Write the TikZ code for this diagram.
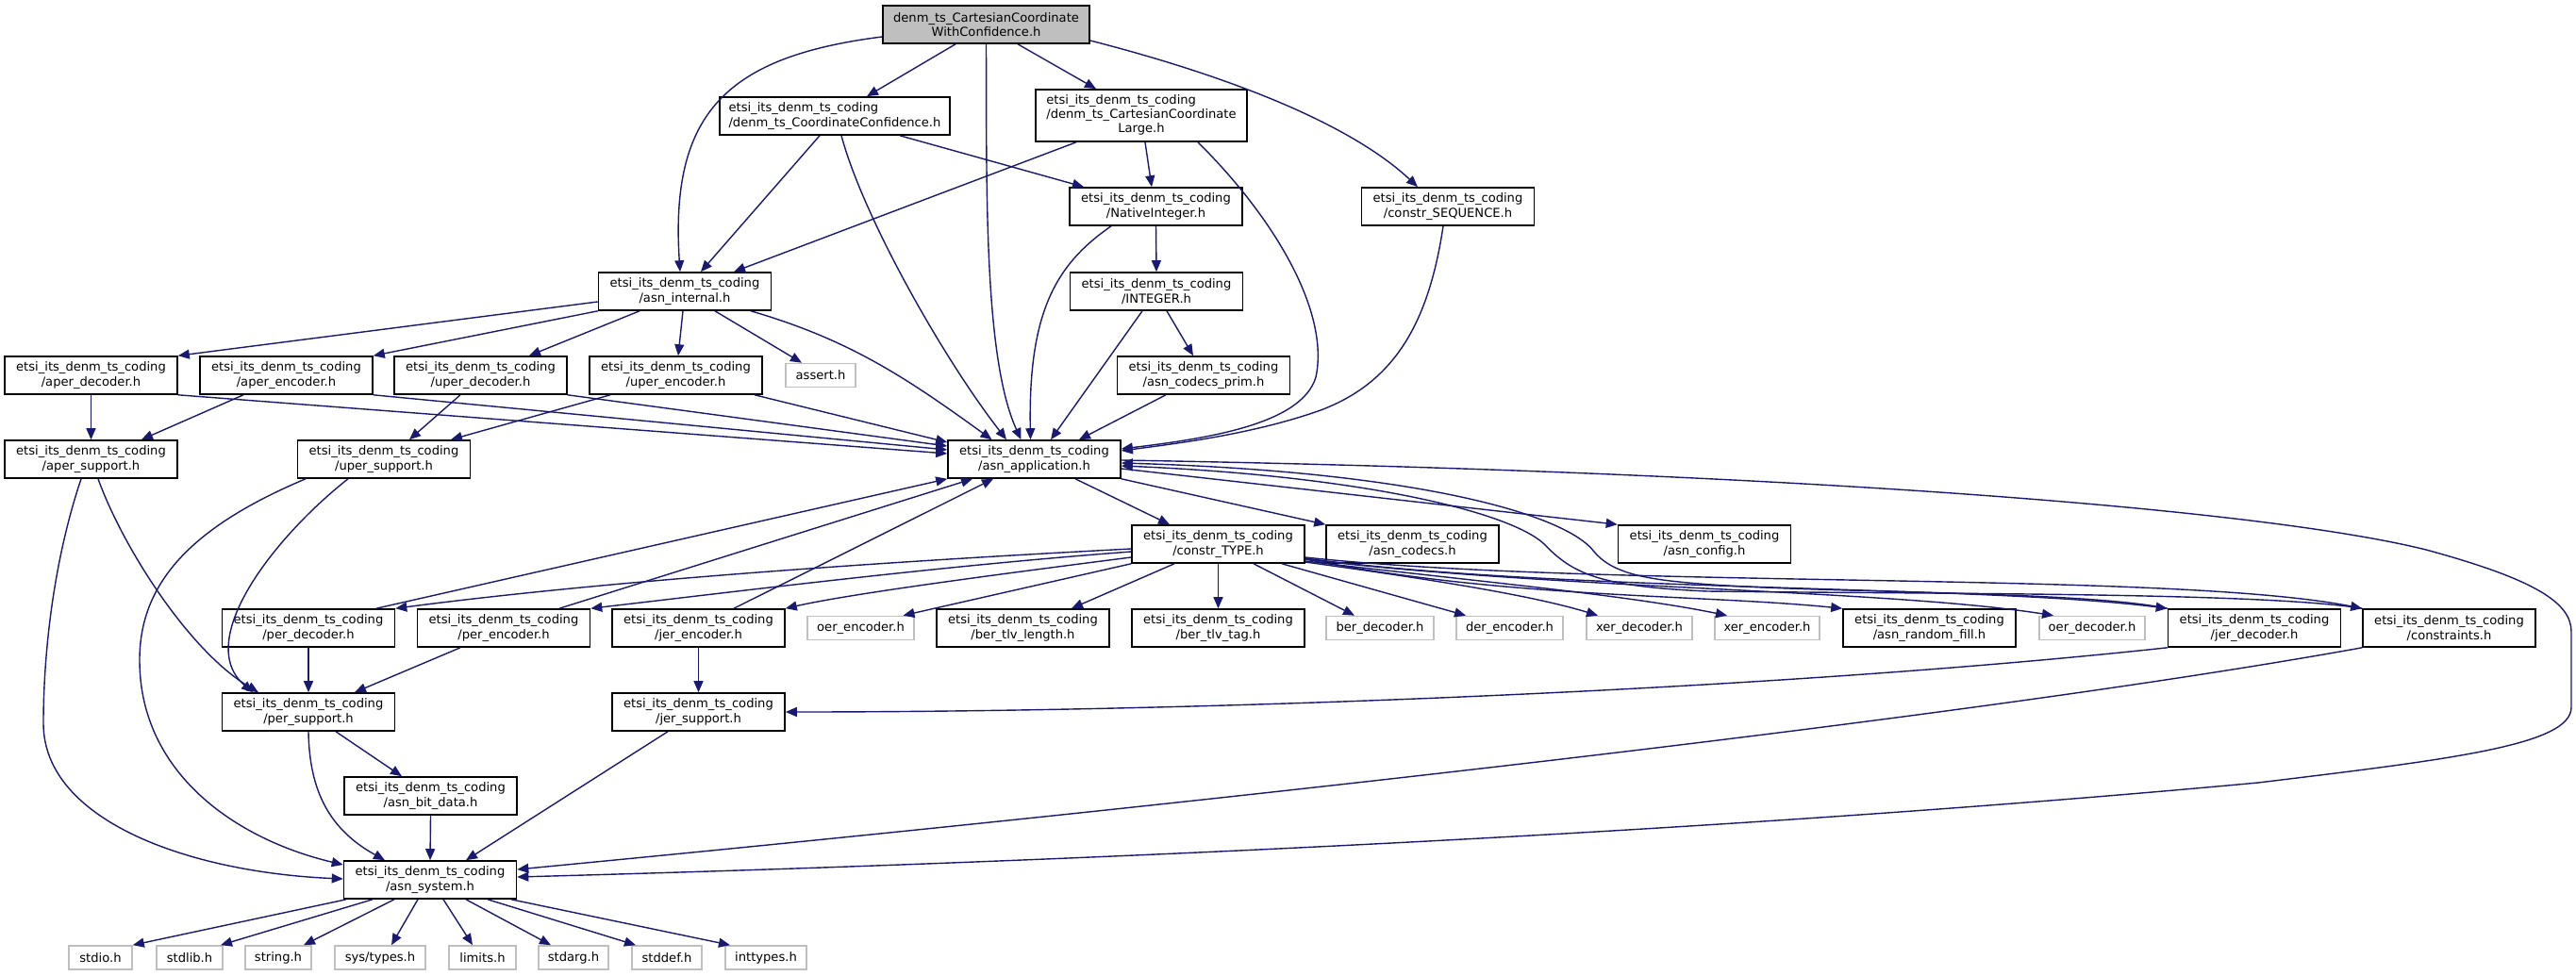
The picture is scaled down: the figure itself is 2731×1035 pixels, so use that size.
\documentclass[tikz,border=0pt]{standalone}
\usepackage{fontspec}
\setmainfont{DejaVu Sans}
\usetikzlibrary{arrows.meta}
\definecolor{edgeblue}{HTML}{191970}
\definecolor{grey75}{HTML}{BFBFBF}
\newcommand\dfont{\fontsize{13.1pt}{15.3pt}\selectfont}
\newcommand\etsipre{etsi\_its\_denm\_ts\_coding}
\tikzset{
  int/.style={draw=black, line width=1.6pt, fill=white, inner sep=0pt,
    minimum height=40pt, minimum width=183pt, align=center, font=\dfont},
  topnode/.style={int, fill=grey75},
  ext/.style={draw=grey75, line width=1.6pt, fill=white, inner sep=0pt,
    minimum height=25pt, align=center, font=\dfont},
  edge/.style={draw=edgeblue, line width=1.4pt, -{Triangle[length=12pt,width=10pt]}},
}
\begin{document}
\begin{tikzpicture}[x=1pt,y=-1pt]
\useasboundingbox[fill=white] (0,0) rectangle (2731,1035);
% ---------- nodes ----------
\node[topnode, minimum width=219pt] (top) at (1045.5,26) {denm\_ts\_CartesianCoordinate\\WithConfidence.h};
\node[int, minimum width=244pt, align=left] (coordconf) at (885,123) {\etsipre\\/denm\_ts\_CoordinateConfidence.h};
\node[int, minimum width=224pt, minimum height=55pt] (cartlarge) at (1210,122.5)
  {\begin{tabular}{@{}l@{}}\etsipre\\/denm\_ts\_CartesianCoordinate\\\multicolumn{1}{@{}c@{}}{Large.h}\end{tabular}};
\node[int] (nativeint) at (1225.5,219) {\etsipre\\/NativeInteger.h};
\node[int] (constrseq) at (1535,219) {\etsipre\\/constr\_SEQUENCE.h};
\node[int] (asninternal) at (726,309) {\etsipre\\/asn\_internal.h};
\node[int] (integer) at (1226,309) {\etsipre\\/INTEGER.h};
\node[int] (aperdec) at (96.5,398) {\etsipre\\/aper\_decoder.h};
\node[int] (aperenc) at (303.5,398) {\etsipre\\/aper\_encoder.h};
\node[int] (uperdec) at (509.5,398) {\etsipre\\/uper\_decoder.h};
\node[int] (uperenc) at (716.5,398) {\etsipre\\/uper\_encoder.h};
\node[ext, minimum width=74pt] (assert) at (870,398) {assert.h};
\node[int] (codecsprim) at (1276,398) {\etsipre\\/asn\_codecs\_prim.h};
\node[int] (apersup) at (96.5,487) {\etsipre\\/aper\_support.h};
\node[int] (upersup) at (407,487) {\etsipre\\/uper\_support.h};
\node[int] (asnapp) at (1096.5,487) {\etsipre\\/asn\_application.h};
\node[int] (constrtype) at (1291.5,577) {\etsipre\\/constr\_TYPE.h};
\node[int] (asncodecs) at (1497.5,577) {\etsipre\\/asn\_codecs.h};
\node[int] (asnconfig) at (1807,577) {\etsipre\\/asn\_config.h};
\node[int] (perdec) at (327,666) {\etsipre\\/per\_decoder.h};
\node[int] (perenc) at (534,666) {\etsipre\\/per\_encoder.h};
\node[int] (jerenc) at (740.5,666) {\etsipre\\/jer\_encoder.h};
\node[ext, minimum width=113pt] (oerenc) at (912.5,666) {oer\_encoder.h};
\node[int] (bertlvlen) at (1084.5,666) {\etsipre\\/ber\_tlv\_length.h};
\node[int] (bertlvtag) at (1291.5,666) {\etsipre\\/ber\_tlv\_tag.h};
\node[ext, minimum width=114pt] (berdec) at (1463,666) {ber\_decoder.h};
\node[ext, minimum width=113pt] (derenc) at (1600.5,666) {der\_encoder.h};
\node[ext, minimum width=112pt] (xerdec) at (1738,666) {xer\_decoder.h};
\node[ext, minimum width=111pt] (xerenc) at (1873.5,666) {xer\_encoder.h};
\node[int] (randfill) at (2045.5,666) {\etsipre\\/asn\_random\_fill.h};
\node[ext, minimum width=112pt] (oerdec) at (2218,666) {oer\_decoder.h};
\node[int] (jerdec) at (2390,666) {\etsipre\\/jer\_decoder.h};
\node[int] (constraints) at (2596.5,666) {\etsipre\\/constraints.h};
\node[int] (persup) at (327,755) {\etsipre\\/per\_support.h};
\node[int] (jersup) at (740.5,755) {\etsipre\\/jer\_support.h};
\node[int] (bitdata) at (456.5,844) {\etsipre\\/asn\_bit\_data.h};
\node[int] (asnsys) at (456,933) {\etsipre\\/asn\_system.h};
\node[ext, minimum width=67pt] (stdio) at (106.5,1015.5) {stdio.h};
\node[ext, minimum width=70pt] (stdlib) at (201,1015.5) {stdlib.h};
\node[ext, minimum width=70pt] (string) at (295,1015.5) {string.h};
\node[ext, minimum width=96pt] (systypes) at (403,1015.5) {sys/types.h};
\node[ext, minimum width=71pt] (limits) at (511.5,1015.5) {limits.h};
\node[ext, minimum width=74pt] (stdarg) at (608,1015.5) {stdarg.h};
\node[ext, minimum width=74pt] (stddef) at (707,1015.5) {stddef.h};
\node[ext, minimum width=86pt] (inttypes) at (812,1015.5) {inttypes.h};
% ---------- edges ----------
\draw[edge] ([yshift=-13pt]top.west) .. controls (770,60) and (710,120) .. ([xshift=-5pt]asninternal.north);
\draw[edge] ([xshift=-32.5pt]top.south) -- ([xshift=34pt]coordconf.north);
\draw[edge] (top.south) .. controls (1046,200) and (1043,380) .. ([xshift=-14pt]asnapp.north);
\draw[edge] ([xshift=33.5pt]top.south) -- ([xshift=-48pt]cartlarge.north);
\draw[edge] ([yshift=-17pt]top.east) .. controls (1300,80) and (1430,130) .. ([xshift=-32pt]constrseq.north);
\draw[edge] ([xshift=69pt]coordconf.south) -- ([xshift=-76.5pt]nativeint.north);
\draw[edge] ([xshift=-16pt]coordconf.south) -- ([xshift=17pt]asninternal.north);
\draw[edge] ([xshift=7pt]coordconf.south) .. controls (915,230) and (1000,380) .. ([xshift=-29.5pt]asnapp.north);
\draw[edge] ([xshift=-69pt]cartlarge.south) -- ([xshift=52pt]asninternal.north);
\draw[edge] ([xshift=4pt]cartlarge.south) -- ([xshift=-4.5pt]nativeint.north);
\draw[edge] ([xshift=60pt]cartlarge.south) .. controls (1350,230) and (1410,330) .. (1395,400) .. controls (1380,450) and (1280,465) .. ([yshift=11pt]asnapp.east);
\draw[edge] (nativeint.south) -- (integer.north);
\draw[edge] ([xshift=-47.5pt]nativeint.south) .. controls (1120,280) and (1090,330) .. ([xshift=-4pt]asnapp.north);
\draw[edge] ([xshift=-5pt]constrseq.south) .. controls (1515,340) and (1480,405) .. (1400,435) .. controls (1330,460) and (1250,470) .. ([yshift=9pt]asnapp.east);
\draw[edge] ([xshift=11pt]integer.south) -- ([xshift=-11pt]codecsprim.north);
\draw[edge] ([xshift=-15pt]integer.south) -- ([xshift=17.5pt]asnapp.north);
\draw[edge] ([xshift=-40pt]codecsprim.south) -- ([xshift=47.5pt]asnapp.north);
% asn_internal
\draw[edge] ([yshift=-11pt]asninternal.west) -- (aperdec.north east);
\draw[edge] (asninternal.south west) -- (aperenc.north east);
\draw[edge] ([xshift=-48pt]asninternal.south) -- ([xshift=51.5pt]uperdec.north);
\draw[edge] ([xshift=-2pt]asninternal.south) -- ([xshift=2.5pt]uperenc.north);
\draw[edge] ([xshift=32pt]asninternal.south) -- ([xshift=-20pt]assert.north);
\draw[edge] ([xshift=70pt]asninternal.south) .. controls (900,360) and (960,400) .. ([xshift=-45pt]asnapp.north);
% rank 4
\draw[edge] (aperdec.south) -- (apersup.north);
\draw[edge] (aperdec.south east) -- ([yshift=6pt]asnapp.west);
\draw[edge] ([xshift=-45.5pt]aperenc.south) -- ([xshift=53.5pt]apersup.north);
\draw[edge] (aperenc.south east) -- ([yshift=10pt]asnapp.west);
\draw[edge] ([xshift=-21.5pt]uperdec.south) -- ([xshift=27pt]upersup.north);
\draw[edge] (uperdec.south east) -- ([yshift=14pt]asnapp.west);
\draw[edge] ([xshift=-69.5pt]uperenc.south) -- ([xshift=71pt]upersup.north);
\draw[edge] ([xshift=83.5pt]uperenc.south) -- ([yshift=18pt]asnapp.west);
% rank 5
\draw[edge] ([xshift=-10.5pt]apersup.south) .. controls (55,600) and (46,700) .. (46,767) .. controls (46,870) and (200,925) .. ([yshift=1pt]asnsys.west);
\draw[edge] ([xshift=7.5pt]apersup.south) .. controls (130,580) and (200,690) .. ([xshift=-53pt]persup.north);
\draw[edge] ([xshift=-83pt]upersup.south) .. controls (200,560) and (148,620) .. (148,700) .. controls (148,820) and (250,890) .. ([yshift=16pt]asnsys.west);
\draw[edge] ([xshift=-38pt]upersup.south) .. controls (290,570) and (205,680) .. ([xshift=-59pt]persup.north);
\draw[edge] ([xshift=43.5pt]asnapp.south) -- ([xshift=-51.5pt]constrtype.north);
\draw[edge] (asnapp.south east) -- (asncodecs.north west);
\draw[edge] ([yshift=-10pt]asnapp.east) -- (asnconfig.north west);
\draw[edge] ([yshift=-1pt]asnapp.east) .. controls (1900,500) and (2400,540) .. (2572,583) .. controls (2690,615) and (2726,640) .. (2726,670) -- (2726,750) .. controls (2726,790) and (2600,805) .. (2394,830) .. controls (1800,885) and (1100,915) .. ([yshift=3pt]asnsys.east);
% back edges to asn_application
\draw[edge] (constraints.north west) .. controls (2400,628) and (2050,630) .. (1810,627) .. controls (1700,622) and (1670,610) .. (1640,580) .. controls (1610,545) and (1450,505) .. ([yshift=-7pt]asnapp.east);
\draw[edge] (jerdec.north west) .. controls (2200,625) and (1900,630) .. (1780,617) .. controls (1730,612) and (1705,603) .. (1690,585) .. controls (1660,545) and (1500,500) .. ([yshift=-4pt]asnapp.east);
\draw[edge] ([xshift=72pt]perdec.north) -- (asnapp.south west);
\draw[edge] ([xshift=59pt]perenc.north) -- ([xshift=-65.5pt]asnapp.south);
\draw[edge] ([xshift=37.5pt]jerenc.north) -- ([xshift=-43.5pt]asnapp.south);
% constr_TYPE
\draw[edge] ([yshift=-5pt]constrtype.west) .. controls (950,595) and (650,615) .. (perdec.north east);
\draw[edge] ([yshift=-8pt]constrtype.west) .. controls (1000,600) and (800,625) .. (perenc.north east);
\draw[edge] ([yshift=-14pt]constrtype.west) .. controls (1050,610) and (900,630) .. (jerenc.north east);
\draw[edge] (constrtype.south west) -- ([xshift=45pt]oerenc.north);
\draw[edge] ([xshift=-46.5pt]constrtype.south) -- ([xshift=51.5pt]bertlvlen.north);
\draw[edge] (constrtype.south) -- (bertlvtag.north);
\draw[edge] ([xshift=37.5pt]constrtype.south) -- ([xshift=-27pt]berdec.north);
\draw[edge] ([xshift=67.5pt]constrtype.south) -- ([xshift=-46.5pt]derenc.north);
\draw[edge] ([yshift=-19pt]constrtype.east) .. controls (1500,612) and (1620,630) .. ([xshift=-44pt]xerdec.north);
\draw[edge] ([yshift=-18pt]constrtype.east) .. controls (1550,615) and (1720,630) .. ([xshift=-42.5pt]xerenc.north);
\draw[edge] ([yshift=-16pt]constrtype.east) .. controls (1600,635) and (1800,630) .. (randfill.north west);
\draw[edge] ([yshift=-16pt]constrtype.east) .. controls (1650,625) and (2000,625) .. ([xshift=-41pt]oerdec.north);
\draw[edge] ([yshift=-15pt]constrtype.east) .. controls (1650,628) and (2100,620) .. (jerdec.north west);
\draw[edge] ([yshift=-14pt]constrtype.east) .. controls (1700,625) and (2300,605) .. (constraints.north west);
% rank 7 -> 8
\draw[edge] (perdec.south) -- (persup.north);
\draw[edge] ([xshift=-46pt]perenc.south) -- ([xshift=49pt]persup.north);
\draw[edge] (jerenc.south) -- (jersup.north);
\draw[edge] (jerdec.south west) .. controls (1900,730) and (1300,755) .. (jersup.east);
\draw[edge] (constraints.south west) .. controls (2100,760) and (1300,850) .. ([yshift=11pt]asnsys.east);
% rank 8+
\draw[edge] ([xshift=29pt]persup.south) -- ([xshift=-30.5pt]bitdata.north);
\draw[edge] (persup.south) .. controls (328,840) and (350,880) .. ([xshift=-48pt]asnsys.north);
\draw[edge] ([xshift=-32.5pt]jersup.south) -- ([xshift=38pt]asnsys.north);
\draw[edge] (bitdata.south) -- (asnsys.north);
% asn_system -> system headers
\draw[edge] ([xshift=-89pt]asnsys.south) -- (stdio.north east);
\draw[edge] ([xshift=-61pt]asnsys.south) -- ([xshift=33pt]stdlib.north);
\draw[edge] ([xshift=-38pt]asnsys.south) -- ([xshift=27pt]string.north);
\draw[edge] ([xshift=-13pt]asnsys.south) -- ([xshift=12pt]systypes.north);
\draw[edge] ([xshift=14pt]asnsys.south) -- ([xshift=-10.5pt]limits.north);
\draw[edge] ([xshift=38pt]asnsys.south) -- ([xshift=-24pt]stdarg.north);
\draw[edge] ([xshift=61pt]asnsys.south) -- ([xshift=-33pt]stddef.north);
\draw[edge] ([xshift=86pt]asnsys.south) -- ([xshift=-38pt]inttypes.north);
\end{tikzpicture}
\end{document}
